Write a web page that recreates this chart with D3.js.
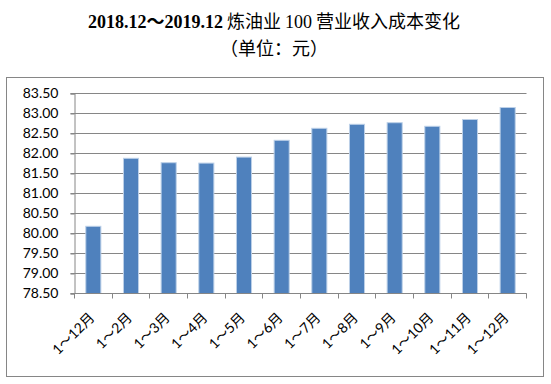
<!DOCTYPE html>
<html>
<head>
<meta charset="utf-8">
<script src="https://cdn.jsdelivr.net/npm/d3@7/dist/d3.min.js"></script>
<style>
  html, body { margin: 0; padding: 0; background: #fff; }
  svg { display: block; }
</style>
</head>
<body>
<div id="chart"></div>
<script>
const categories = ["1～12月","1～2月","1～3月","1～4月","1～5月","1～6月","1～7月","1～8月","1～9月","1～10月","1～11月","1～12月"];
const values = [80.18, 81.88, 81.77, 81.76, 81.91, 82.33, 82.63, 82.73, 82.77, 82.68, 82.85, 83.15];
const yTicks = [78.5, 79.0, 79.5, 80.0, 80.5, 81.0, 81.5, 82.0, 82.5, 83.0, 83.5];
const titleParts = [
  {text: "2018.12～2019.12", kind: "boldSerif"},
  {text: " 炼油业 ", kind: "cjk"},
  {text: "100", kind: "serif"},
  {text: " 营业收入成本变化", kind: "cjk"}
];
const subtitle = "（单位：元）";

(function () {
const W = 551, H = 384;
const svg = d3.select("#chart").append("svg").attr("width", W).attr("height", H);

const pLeft = 74.5, pRight = 526.5, pTop = 93.5, pBottom = 293.5;
const gridColor = "#868686";

// chart border
svg.append("rect").attr("x", 6.5).attr("y", 77.5).attr("width", 537).attr("height", 299)
  .attr("fill", "none").attr("stroke", gridColor).attr("stroke-width", 1);

const x = d3.scaleBand().domain(d3.range(categories.length)).range([pLeft, pRight])
  .paddingInner(0.6).paddingOuter(0.3);
const y = d3.scaleLinear().domain([78.5, 83.5]).range([pBottom, pTop]);

// gridlines
svg.append("g").selectAll("line").data(yTicks).join("line")
  .attr("x1", pLeft - 4).attr("x2", pRight)
  .attr("y1", d => Math.round(y(d) - 0.5) + 0.5).attr("y2", d => Math.round(y(d) - 0.5) + 0.5)
  .attr("stroke", gridColor).attr("stroke-width", 1);

// y axis
const yAxis = d3.axisLeft(y).tickValues(yTicks).tickFormat(d3.format(".2f")).tickSize(4).tickPadding(12);
const gy = svg.append("g").attr("transform", `translate(${pLeft},0)`).call(yAxis);
gy.select(".domain").attr("stroke", gridColor);
gy.selectAll(".tick line").attr("stroke", gridColor);
gy.selectAll(".tick text").attr("font-family", "Lato, 'Liberation Sans', sans-serif")
  .attr("font-size", 14).attr("fill", "#000");

// bars
svg.append("g").selectAll("rect").data(values).join("rect")
  .attr("x", (d, i) => x(i))
  .attr("y", d => y(d))
  .attr("width", x.bandwidth())
  .attr("height", d => pBottom - y(d))
  .attr("fill", "#4f81bd")
  .attr("stroke", "#bcd0e8")
  .attr("stroke-width", 1);

// x axis line and ticks
const boundaries = d3.range(categories.length + 1).map(i => pLeft + i * (pRight - pLeft) / categories.length);
svg.append("line").attr("x1", pLeft).attr("x2", pRight).attr("y1", pBottom).attr("y2", pBottom)
  .attr("stroke", gridColor);
svg.append("g").selectAll("line").data(boundaries).join("line")
  .attr("x1", d => Math.round(d - 0.5) + 0.5).attr("x2", d => Math.round(d - 0.5) + 0.5)
  .attr("y1", pBottom).attr("y2", pBottom + 5)
  .attr("stroke", gridColor);

// x labels
svg.append("g").selectAll("text").data(categories).join("text")
  .attr("transform", (d, i) => `translate(${x(i) + x.bandwidth() / 2 + 2},${pBottom + 25}) rotate(-45)`)
  .attr("text-anchor", "end")
  .attr("font-family", "Lato, 'Noto Sans CJK SC', sans-serif")
  .attr("font-size", 14)
  .attr("fill", "#000")
  .text(d => d);

// title
const fontFor = {
  boldSerif: {family: "'Liberation Serif', 'Noto Sans CJK SC', serif", weight: "bold"},
  serif: {family: "'Liberation Serif', serif", weight: "normal"},
  cjk: {family: "'Noto Sans CJK SC', sans-serif", weight: "normal"}
};
const t1 = svg.append("text").attr("x", 274).attr("y", 28).attr("text-anchor", "middle")
  .attr("font-size", 18).attr("fill", "#000").style("white-space", "pre");
t1.selectAll("tspan").data(titleParts).join("tspan")
  .attr("font-family", d => fontFor[d.kind].family)
  .attr("font-weight", d => fontFor[d.kind].weight)
  .text(d => d.text);

svg.append("text").attr("x", 274).attr("y", 55).attr("text-anchor", "middle")
  .attr("font-family", "'Noto Sans CJK SC', sans-serif").attr("font-size", 18).attr("fill", "#000")
  .text(subtitle);
})();
</script>
</body>
</html>
